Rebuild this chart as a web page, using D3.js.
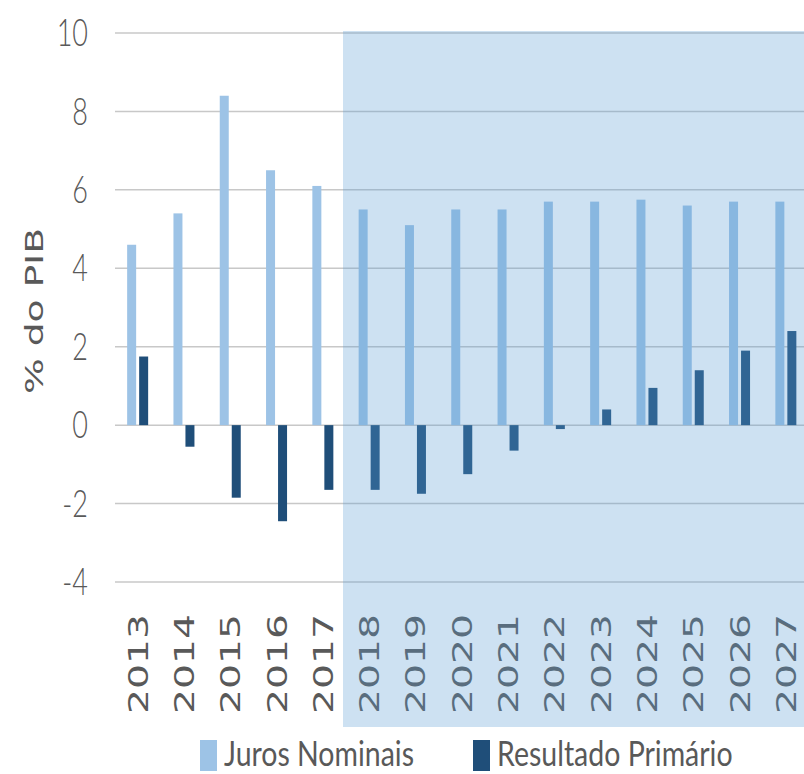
<!DOCTYPE html>
<html>
<head>
<meta charset="utf-8">
<script src="https://cdn.jsdelivr.net/npm/d3@7"></script>
<style>
  html, body { margin: 0; padding: 0; background: #ffffff; }
  svg { display: block; }
</style>
</head>
<body>
<script>
// Anos da série (realizado até 2017, projeção a partir de 2018)
const years = ["2013","2014","2015","2016","2017","2018","2019","2020","2021","2022","2023","2024","2025","2026","2027"];
const jurosNominais = [4.6, 5.4, 8.4, 6.5, 6.1, 5.5, 5.1, 5.5, 5.5, 5.7, 5.7, 5.75, 5.6, 5.7, 5.7];
const resultadoPrimario = [1.75, -0.55, -1.85, -2.45, -1.65, -1.65, -1.75, -1.25, -0.65, -0.1, 0.4, 0.95, 1.4, 1.9, 2.4];
const seriesNames = ["Juros Nominais", "Resultado Primário"];
const seriesColors = ["#9dc3e6", "#1f4e79"];
const yTicks = [-4, -2, 0, 2, 4, 6, 8, 10];
const projectionStart = "2018";

const W = 804, H = 774;
const svg = d3.select("body").append("svg").attr("width", W).attr("height", H);

const x = d3.scaleBand().domain(years).range([114.5, 809]).padding(0);
const x1 = d3.scaleBand().domain(seriesNames).range([-10.5, 10.5]).paddingInner(0.25);
const y = d3.scaleLinear().domain([-4, 10]).range([582, 33]);

const textColor = "#595959";

// gridlines
svg.append("g").selectAll("line").data(yTicks).join("line")
  .attr("x1", 115).attr("x2", W)
  .attr("y1", d => y(d)).attr("y2", d => y(d))
  .attr("stroke", "#c8c8c8").attr("stroke-width", 1.5);

// y tick labels (tall, condensed look)
svg.append("g").selectAll("text").data(yTicks).join("text")
  .attr("transform", d => `translate(88,${y(d)}) scale(1,1.35)`)
  .attr("text-anchor", "end")
  .attr("dy", "0.36em")
  .attr("font-family", "Lato, 'Open Sans', sans-serif")
  .attr("font-weight", 300)
  .attr("font-size", 27)
  .attr("fill", textColor)
  .text(d => d);

// y axis title
svg.append("text")
  .attr("transform", `translate(43,311) rotate(-90)`)
  .attr("text-anchor", "middle")
  .attr("font-family", "'DejaVu Sans', sans-serif")
  .attr("font-size", 24)
  .attr("fill", textColor)
  .attr("textLength", 166)
  .attr("lengthAdjust", "spacingAndGlyphs")
  .text("% do PIB");

// bars
const rows = years.map((yr, i) => ({ year: yr, values: [jurosNominais[i], resultadoPrimario[i]] }));
const groups = svg.append("g").selectAll("g").data(rows).join("g")
  .attr("transform", d => `translate(${x(d.year) + x.bandwidth() / 2},0)`);
groups.selectAll("rect").data(d => d.values.map((v, k) => ({ v, name: seriesNames[k], k }))).join("rect")
  .attr("x", d => x1(d.name))
  .attr("width", x1.bandwidth())
  .attr("y", d => y(Math.max(0, d.v)))
  .attr("height", d => Math.abs(y(d.v) - y(0)))
  .attr("fill", d => seriesColors[d.k]);

// x labels (rotated)
svg.append("g").selectAll("text").data(years).join("text")
  .attr("transform", d => `translate(${x(d) + x.bandwidth() / 2 + 10},614) rotate(-90)`)
  .attr("text-anchor", "end")
  .attr("font-family", "'DejaVu Sans', sans-serif")
  .attr("font-size", 27)
  .attr("fill", textColor)
  .attr("textLength", 100)
  .attr("lengthAdjust", "spacingAndGlyphs")
  .text(d => d);

// projection period shading, laid over the plot
svg.append("rect")
  .attr("x", x(projectionStart) - 3)
  .attr("y", 31)
  .attr("width", W - (x(projectionStart) - 3))
  .attr("height", 727 - 31)
  .attr("fill", "#5b9bd5")
  .attr("opacity", 0.3);

// legend
const legendItems = [
  { name: seriesNames[0], color: seriesColors[0], x: 200 },
  { name: seriesNames[1], color: seriesColors[1], x: 473 }
];
const lg = svg.append("g").selectAll("g").data(legendItems).join("g")
  .attr("transform", d => `translate(${d.x},740)`);
lg.append("rect").attr("width", 17).attr("height", 31).attr("fill", d => d.color);
lg.append("text")
  .attr("transform", "translate(24,26) scale(1,1.22)")
  .attr("font-family", "Lato, 'Open Sans', sans-serif")
  .attr("font-size", 28.5)
  .attr("fill", textColor)
  .text(d => d.name);
</script>
</body>
</html>
